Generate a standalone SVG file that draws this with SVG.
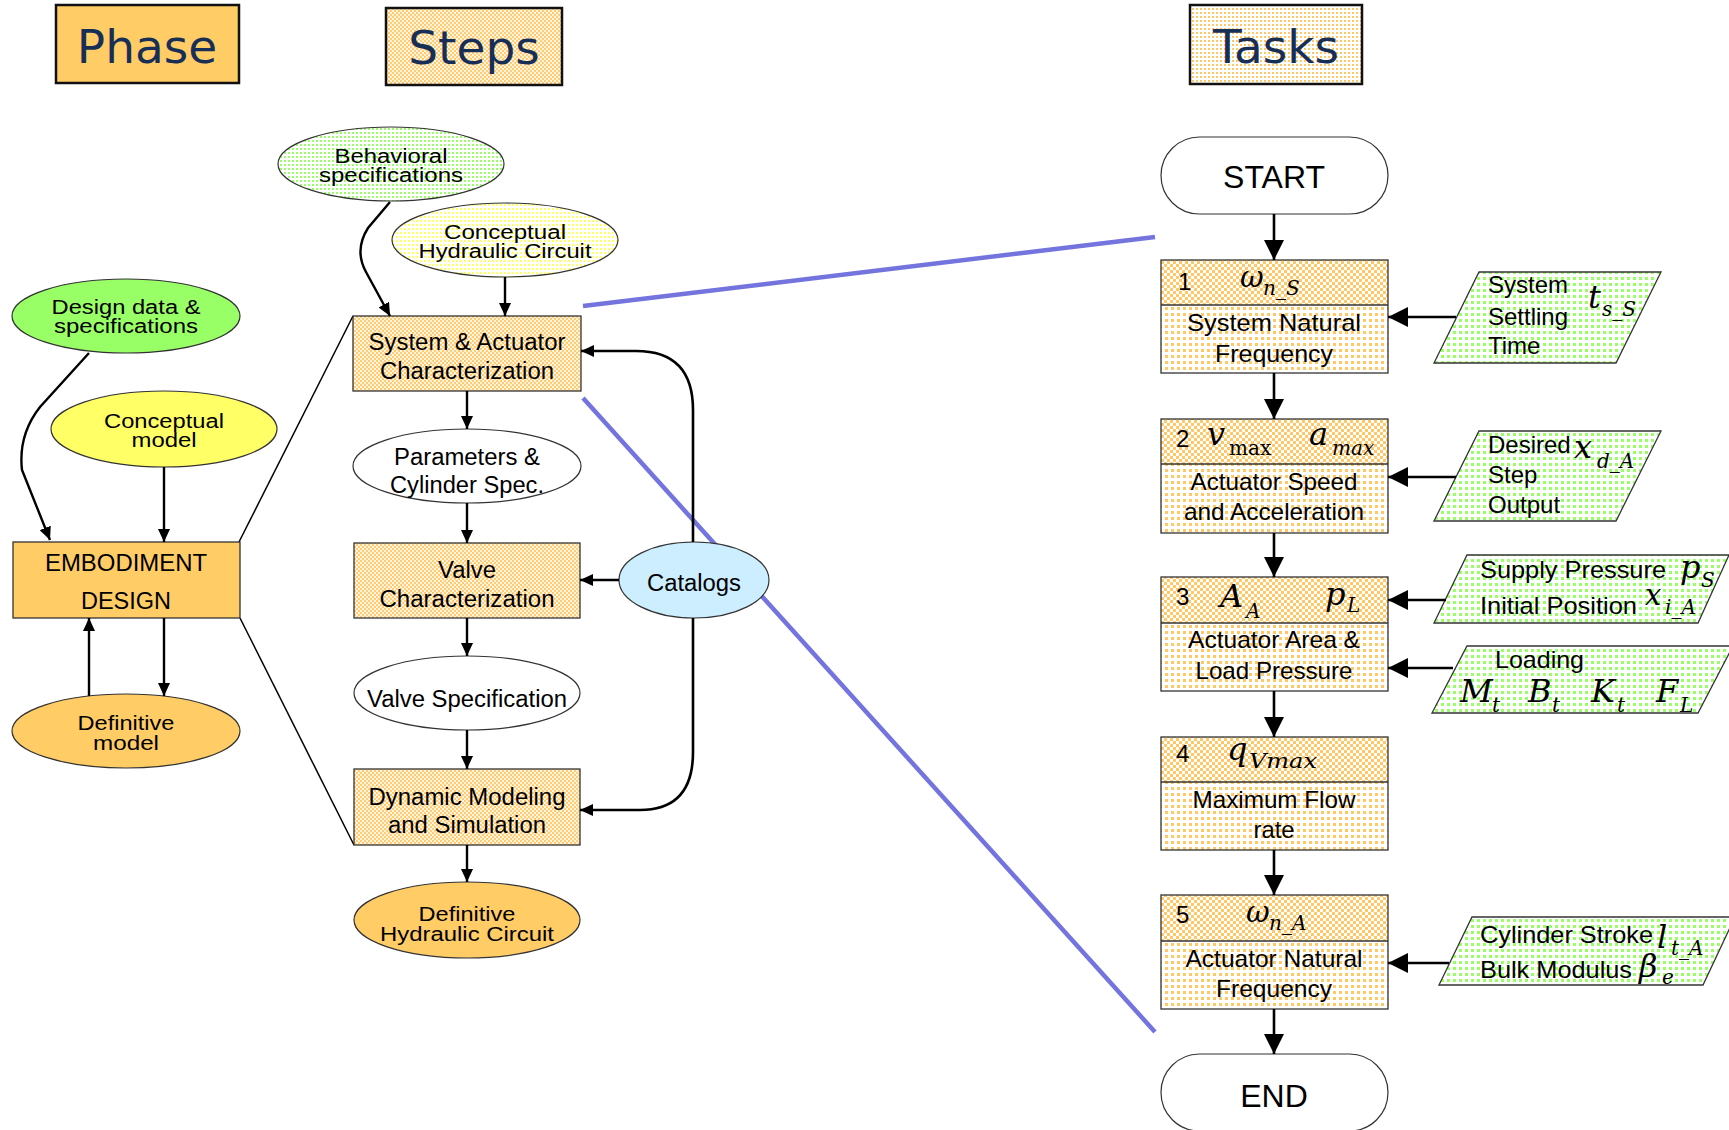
<svg xmlns="http://www.w3.org/2000/svg" width="1729" height="1130" viewBox="0 0 1729 1130">
  <defs>
    <style>
      .t { font-family: "Liberation Sans", Arial, sans-serif; font-size: 23px; fill: #000; }
      .t24 { font-size: 24px; }
      .t20 { font-size: 20px; }
      .t32 { font-size: 32px; }
      .tc { text-anchor: middle; }
      .hd { font-family: "DejaVu Sans", Verdana, sans-serif; font-size: 47px; fill: #172f57; text-anchor: middle; }
      .m { font-family: "DejaVu Serif", "Liberation Serif", serif; font-style: italic; font-size: 29px; fill: #000; }
      .mx { font-size: 32px; }
      .ms { font-family: "DejaVu Serif", "Liberation Serif", serif; font-style: italic; font-size: 20px; fill: #000; }
      .mu { font-family: "DejaVu Serif", "Liberation Serif", serif; font-size: 20px; fill: #000; }
      .title { stroke: #111; stroke-width: 2.5; }
      .box { stroke: #333; stroke-width: 1.3; }
      .ell { stroke: #333; stroke-width: 1.2; }
      .conn { fill: none; stroke: #000; stroke-width: 2.6; }
      .connL { fill: none; stroke: #000; stroke-width: 2.4; }
      .zoom { fill: none; stroke: #000; stroke-width: 1.5; }
      .blue { fill: none; stroke: #7474de; stroke-width: 4.5; }
    </style>
    <pattern id="chkFine" width="4" height="4" patternUnits="userSpaceOnUse">
      <rect width="4" height="4" fill="#fff4e2"/>
      <rect width="2" height="2" fill="#ffcc70"/>
      <rect x="2" y="2" width="2" height="2" fill="#ffcc70"/>
    </pattern>
    <pattern id="chkBig" width="6" height="6" patternUnits="userSpaceOnUse">
      <rect width="6" height="6" fill="#fff"/>
      <rect width="3" height="3" fill="#ffc766"/>
      <rect x="3" y="3" width="3" height="3" fill="#ffc766"/>
    </pattern>
    <pattern id="dotsOr" width="6" height="6" patternUnits="userSpaceOnUse">
      <rect width="6" height="6" fill="#fff"/>
      <rect x="1" y="1" width="3" height="3" fill="#ffc766"/>
    </pattern>
    <pattern id="dotsOrFine" width="4" height="4" patternUnits="userSpaceOnUse">
      <rect width="4" height="4" fill="#fff"/>
      <rect width="2" height="2" fill="#ffc766"/>
    </pattern>
    <pattern id="dotsGr" width="6" height="6" patternUnits="userSpaceOnUse">
      <rect width="6" height="6" fill="#fff"/>
      <rect x="1" y="1" width="3" height="3" fill="#99ff66"/>
    </pattern>
    <pattern id="dotsGrFine" width="4" height="4" patternUnits="userSpaceOnUse">
      <rect width="4" height="4" fill="#fff"/>
      <rect width="2" height="2" fill="#99ff66"/>
    </pattern>
    <pattern id="dotsYeFine" width="4" height="4" patternUnits="userSpaceOnUse">
      <rect width="4" height="4" fill="#fff"/>
      <rect width="2" height="2" fill="#ffff66"/>
    </pattern>
    <marker id="ahS" markerUnits="userSpaceOnUse" markerWidth="13" markerHeight="12" refX="13" refY="6" orient="auto">
      <path d="M0,0 L13,6 L0,12 z" fill="#000"/>
    </marker>
    <marker id="ahL" markerUnits="userSpaceOnUse" markerWidth="20" markerHeight="20" refX="20" refY="10" orient="auto">
      <path d="M0,0 L20,10 L0,20 z" fill="#000"/>
    </marker>
  </defs>

  <rect width="1729" height="1130" fill="#fff"/>

  <!-- column headers -->
  <g id="hdr-phase">
    <rect class="title" x="56" y="5" width="183" height="78" fill="#ffcc66"/>
    <text class="hd" x="147" y="63">Phase</text>
  </g>
  <g id="hdr-steps">
    <rect class="title" x="386" y="8" width="176" height="77" fill="url(#chkFine)"/>
    <text class="hd" x="474" y="64">Steps</text>
  </g>
  <g id="hdr-tasks">
    <rect class="title" x="1190" y="5" width="172" height="79" fill="url(#dotsOrFine)"/>
    <text class="hd" x="1276" y="63">Tasks</text>
  </g>

  <!-- zoom-out guides -->
  <g id="guides">
    <path class="zoom" d="M239,542 L353,316"/>
    <path class="zoom" d="M240,618 L354,845"/>
    <path class="blue" d="M583,306 L1155,237"/>
    <path class="blue" d="M583,398 L1155,1032"/>
  </g>

  <!-- Phase column -->
  <g id="design-data">
    <ellipse class="ell" cx="126" cy="316" rx="114" ry="37" fill="#99ff66"/>
    <text class="t t20 tc" x="126" y="314" textLength="149" lengthAdjust="spacingAndGlyphs">Design data &amp;</text>
    <text class="t t20 tc" x="126" y="333" textLength="144" lengthAdjust="spacingAndGlyphs">specifications</text>
  </g>
  <g id="conceptual-model">
    <ellipse class="ell" cx="164" cy="429" rx="113" ry="38" fill="#ffff66"/>
    <text class="t t20 tc" x="164" y="428" textLength="120" lengthAdjust="spacingAndGlyphs">Conceptual</text>
    <text class="t t20 tc" x="164" y="447" textLength="65" lengthAdjust="spacingAndGlyphs">model</text>
  </g>
  <g id="embodiment-design">
    <rect class="box" x="13" y="542" width="227" height="76" fill="#ffcc66"/>
    <text class="t tc" x="126" y="571" textLength="162" lengthAdjust="spacingAndGlyphs">EMBODIMENT</text>
    <text class="t tc" x="126" y="609" textLength="90" lengthAdjust="spacingAndGlyphs">DESIGN</text>
  </g>
  <g id="definitive-model">
    <ellipse class="ell" cx="126" cy="731" rx="114" ry="37" fill="#ffcc66"/>
    <text class="t t20 tc" x="126" y="730" textLength="97" lengthAdjust="spacingAndGlyphs">Definitive</text>
    <text class="t t20 tc" x="126" y="750" textLength="66" lengthAdjust="spacingAndGlyphs">model</text>
  </g>

  <!-- Steps column -->
  <g id="behavioral-spec">
    <ellipse class="ell" cx="391" cy="164" rx="113" ry="37" fill="url(#dotsGrFine)"/>
    <text class="t t20 tc" x="391" y="163" textLength="113" lengthAdjust="spacingAndGlyphs">Behavioral</text>
    <text class="t t20 tc" x="391" y="182" textLength="144" lengthAdjust="spacingAndGlyphs">specifications</text>
  </g>
  <g id="conceptual-circuit">
    <ellipse class="ell" cx="505" cy="240" rx="113" ry="37" fill="url(#dotsYeFine)"/>
    <text class="t t20 tc" x="505" y="239" textLength="122" lengthAdjust="spacingAndGlyphs">Conceptual</text>
    <text class="t t20 tc" x="505" y="258" textLength="173" lengthAdjust="spacingAndGlyphs">Hydraulic Circuit</text>
  </g>
  <g id="system-actuator">
    <rect class="box" x="353" y="316" width="228" height="75" fill="url(#chkFine)"/>
    <text class="t tc" x="467" y="350" textLength="197" lengthAdjust="spacingAndGlyphs">System &amp; Actuator</text>
    <text class="t tc" x="467" y="379" textLength="174" lengthAdjust="spacingAndGlyphs">Characterization</text>
  </g>
  <g id="parameters">
    <ellipse class="ell" cx="467" cy="466" rx="114" ry="37" fill="#fff"/>
    <text class="t tc" x="467" y="465" textLength="146" lengthAdjust="spacingAndGlyphs">Parameters &amp;</text>
    <text class="t tc" x="467" y="493" textLength="154" lengthAdjust="spacingAndGlyphs">Cylinder Spec.</text>
  </g>
  <g id="valve-char">
    <rect class="box" x="354" y="543" width="226" height="75" fill="url(#chkFine)"/>
    <text class="t tc" x="467" y="578" textLength="58" lengthAdjust="spacingAndGlyphs">Valve</text>
    <text class="t tc" x="467" y="607" textLength="175" lengthAdjust="spacingAndGlyphs">Characterization</text>
  </g>
  <g id="catalogs">
    <ellipse class="ell" cx="694" cy="580" rx="75" ry="38" fill="#cceeff"/>
    <text class="t tc" x="694" y="591" textLength="94" lengthAdjust="spacingAndGlyphs">Catalogs</text>
  </g>
  <g id="valve-spec">
    <ellipse class="ell" cx="467" cy="693" rx="113" ry="37" fill="#fff"/>
    <text class="t tc" x="467" y="707" textLength="200" lengthAdjust="spacingAndGlyphs">Valve Specification</text>
  </g>
  <g id="dynamic-modeling">
    <rect class="box" x="354" y="769" width="226" height="76" fill="url(#chkFine)"/>
    <text class="t tc" x="467" y="805" textLength="197" lengthAdjust="spacingAndGlyphs">Dynamic Modeling</text>
    <text class="t tc" x="467" y="833" textLength="158" lengthAdjust="spacingAndGlyphs">and Simulation</text>
  </g>
  <g id="definitive-circuit">
    <ellipse class="ell" cx="467" cy="920" rx="113" ry="38" fill="#ffcc66"/>
    <text class="t t20 tc" x="467" y="921" textLength="97" lengthAdjust="spacingAndGlyphs">Definitive</text>
    <text class="t t20 tc" x="467" y="941" textLength="174" lengthAdjust="spacingAndGlyphs">Hydraulic Circuit</text>
  </g>

  <!-- Tasks column -->
  <g id="start">
    <rect class="ell" x="1161" y="137" width="227" height="77" rx="38.5" fill="#fff"/>
    <text class="t t32 tc" x="1274" y="188">START</text>
  </g>
  <g id="task1">
    <rect x="1161" y="260" width="227" height="45" fill="url(#chkBig)"/>
    <rect x="1161" y="305" width="227" height="68" fill="url(#dotsOr)"/>
    <rect class="box" x="1161" y="260" width="227" height="113" fill="none"/>
    <line class="box" x1="1161" y1="305" x2="1388" y2="305"/>
    <text class="t t24" x="1178" y="290">1</text>
    <text class="m" x="1240" y="287">ω</text><text class="ms" x="1263" y="295">n_S</text>
    <text class="t t24 tc" x="1274" y="331" textLength="174" lengthAdjust="spacingAndGlyphs">System Natural</text>
    <text class="t t24 tc" x="1274" y="362" textLength="118" lengthAdjust="spacingAndGlyphs">Frequency</text>
  </g>
  <g id="task2">
    <rect x="1161" y="419" width="227" height="45" fill="url(#chkBig)"/>
    <rect x="1161" y="464" width="227" height="69" fill="url(#dotsOr)"/>
    <rect class="box" x="1161" y="419" width="227" height="114" fill="none"/>
    <line class="box" x1="1161" y1="464" x2="1388" y2="464"/>
    <text class="t t24" x="1176" y="447">2</text>
    <text class="m mx" x="1207" y="445">v</text><text class="mu" x="1229" y="455">max</text>
    <text class="m mx" x="1309" y="445">a</text><text class="ms" x="1332" y="455">max</text>
    <text class="t t24 tc" x="1274" y="490" textLength="167" lengthAdjust="spacingAndGlyphs">Actuator Speed</text>
    <text class="t t24 tc" x="1274" y="520" textLength="180" lengthAdjust="spacingAndGlyphs">and Acceleration</text>
  </g>
  <g id="task3">
    <rect x="1161" y="577" width="227" height="46" fill="url(#chkBig)"/>
    <rect x="1161" y="623" width="227" height="68" fill="url(#dotsOr)"/>
    <rect class="box" x="1161" y="577" width="227" height="114" fill="none"/>
    <line class="box" x1="1161" y1="623" x2="1388" y2="623"/>
    <text class="t t24" x="1176" y="605">3</text>
    <text class="m mx" x="1220" y="607">A</text><text class="ms" x="1246" y="618">A</text>
    <text class="m mx" x="1325" y="605">p</text><text class="ms" x="1347" y="612">L</text>
    <text class="t t24 tc" x="1274" y="648" textLength="172" lengthAdjust="spacingAndGlyphs">Actuator Area &amp;</text>
    <text class="t t24 tc" x="1274" y="679" textLength="157" lengthAdjust="spacingAndGlyphs">Load Pressure</text>
  </g>
  <g id="task4">
    <rect x="1161" y="737" width="227" height="45" fill="url(#chkBig)"/>
    <rect x="1161" y="782" width="227" height="68" fill="url(#dotsOr)"/>
    <rect class="box" x="1161" y="737" width="227" height="113" fill="none"/>
    <line class="box" x1="1161" y1="782" x2="1388" y2="782"/>
    <text class="t t24" x="1176" y="762">4</text>
    <text class="m mx" x="1227" y="760">q</text><text class="ms" x="1249" y="768" textLength="68" lengthAdjust="spacingAndGlyphs">Vmax</text>
    <text class="t t24 tc" x="1274" y="808" textLength="163" lengthAdjust="spacingAndGlyphs">Maximum Flow</text>
    <text class="t t24 tc" x="1274" y="838" textLength="41" lengthAdjust="spacingAndGlyphs">rate</text>
  </g>
  <g id="task5">
    <rect x="1161" y="895" width="227" height="46" fill="url(#chkBig)"/>
    <rect x="1161" y="941" width="227" height="68" fill="url(#dotsOr)"/>
    <rect class="box" x="1161" y="895" width="227" height="114" fill="none"/>
    <line class="box" x1="1161" y1="941" x2="1388" y2="941"/>
    <text class="t t24" x="1176" y="923">5</text>
    <text class="m" x="1246" y="922">ω</text><text class="ms" x="1269" y="930">n_A</text>
    <text class="t t24 tc" x="1274" y="967" textLength="177" lengthAdjust="spacingAndGlyphs">Actuator Natural</text>
    <text class="t t24 tc" x="1274" y="997" textLength="116" lengthAdjust="spacingAndGlyphs">Frequency</text>
  </g>
  <g id="end">
    <rect class="ell" x="1161" y="1054" width="227" height="77" rx="38.5" fill="#fff"/>
    <text class="t t32 tc" x="1274" y="1107">END</text>
  </g>

  <!-- task inputs -->
  <g id="in-settling">
    <polygon class="box" points="1479,272 1661,272 1616,363 1434,363" fill="url(#dotsGr)"/>
    <text class="t t24" x="1488" y="293">System</text>
    <text class="t t24" x="1488" y="325">Settling</text>
    <text class="t t24" x="1488" y="354">Time</text>
    <text class="m mx" x="1588" y="308">t</text><text class="ms" x="1602" y="316">s_S</text>
  </g>
  <g id="in-step">
    <polygon class="box" points="1479,431 1661,431 1616,521 1434,521" fill="url(#dotsGr)"/>
    <text class="t t24" x="1488" y="453">Desired</text>
    <text class="t t24" x="1488" y="483">Step</text>
    <text class="t t24" x="1488" y="513">Output</text>
    <text class="m mx" x="1574" y="458">x</text><text class="ms" x="1597" y="468">d_A</text>
  </g>
  <g id="in-pressure">
    <polygon class="box" points="1467,555 1729,555 1698,623 1434,623" fill="url(#dotsGr)"/>
    <text class="t t24" x="1480" y="578" textLength="186" lengthAdjust="spacingAndGlyphs">Supply Pressure</text>
    <text class="m mx" x="1680" y="578">p</text><text class="ms" x="1701" y="587">S</text>
    <text class="t t24" x="1480" y="614" textLength="157" lengthAdjust="spacingAndGlyphs">Initial Position</text>
    <text class="m" x="1645" y="605">x</text><text class="ms" x="1665" y="614">i_A</text>
  </g>
  <g id="in-loading">
    <polygon class="box" points="1467,646 1733,646 1698,713 1432,713" fill="url(#dotsGr)"/>
    <text class="t t24" x="1495" y="668" textLength="89" lengthAdjust="spacingAndGlyphs">Loading</text>
    <text class="m mx" x="1460" y="702">M</text><text class="ms" x="1492" y="712">t</text>
    <text class="m mx" x="1528" y="702">B</text><text class="ms" x="1552" y="712">t</text>
    <text class="m mx" x="1591" y="702">K</text><text class="ms" x="1617" y="712">t</text>
    <text class="m mx" x="1656" y="702">F</text><text class="ms" x="1680" y="712">L</text>
  </g>
  <g id="in-stroke">
    <polygon class="box" points="1472,917 1735,917 1703,985 1439,985" fill="url(#dotsGr)"/>
    <text class="t t24" x="1480" y="943" textLength="173" lengthAdjust="spacingAndGlyphs">Cylinder Stroke</text>
    <text class="m mx" x="1657" y="948">l</text><text class="ms" x="1671" y="955">t_A</text>
    <text class="t t24" x="1480" y="978" textLength="152" lengthAdjust="spacingAndGlyphs">Bulk Modulus</text>
    <text class="m mx" x="1639" y="977">β</text><text class="ms" x="1662" y="984">e</text>
  </g>

  <!-- connectors -->
  <g id="connectors">
    <path class="connL" d="M89,353 L40,407 Q18,435 22,470 L50,540" marker-end="url(#ahS)"/>
    <path class="connL" d="M164,467 L164,542" marker-end="url(#ahS)"/>
    <path class="connL" d="M164,618 L164,696" marker-end="url(#ahS)"/>
    <path class="connL" d="M89,696 L89,618" marker-end="url(#ahS)"/>

    <path class="connL" d="M390,202 L368,228 Q354,250 366,272 L390,316" marker-end="url(#ahS)"/>
    <path class="connL" d="M505,277 L505,316" marker-end="url(#ahS)"/>
    <path class="connL" d="M467,391 L467,429" marker-end="url(#ahS)"/>
    <path class="connL" d="M467,503 L467,543" marker-end="url(#ahS)"/>
    <path class="conn" d="M619,580 L580,580" marker-end="url(#ahS)"/>
    <path class="conn" d="M693,542 L693,410 Q693,351 636,351 L581,351" marker-end="url(#ahS)"/>
    <path class="conn" d="M693,618 L693,752 Q693,810 640,810 L580,810" marker-end="url(#ahS)"/>
    <path class="connL" d="M467,618 L467,656" marker-end="url(#ahS)"/>
    <path class="connL" d="M467,730 L467,769" marker-end="url(#ahS)"/>
    <path class="connL" d="M467,845 L467,882" marker-end="url(#ahS)"/>

    <path class="conn" d="M1274,214 L1274,260" marker-end="url(#ahL)"/>
    <path class="conn" d="M1274,373 L1274,419" marker-end="url(#ahL)"/>
    <path class="conn" d="M1274,533 L1274,577" marker-end="url(#ahL)"/>
    <path class="conn" d="M1274,691 L1274,737" marker-end="url(#ahL)"/>
    <path class="conn" d="M1274,850 L1274,895" marker-end="url(#ahL)"/>
    <path class="conn" d="M1274,1009 L1274,1054" marker-end="url(#ahL)"/>

    <path class="conn" d="M1456,317 L1388,317" marker-end="url(#ahL)"/>
    <path class="conn" d="M1456,477 L1388,477" marker-end="url(#ahL)"/>
    <path class="conn" d="M1446,600 L1388,600" marker-end="url(#ahL)"/>
    <path class="conn" d="M1453,668 L1388,668" marker-end="url(#ahL)"/>
    <path class="conn" d="M1449,963 L1388,963" marker-end="url(#ahL)"/>
  </g>
</svg>
